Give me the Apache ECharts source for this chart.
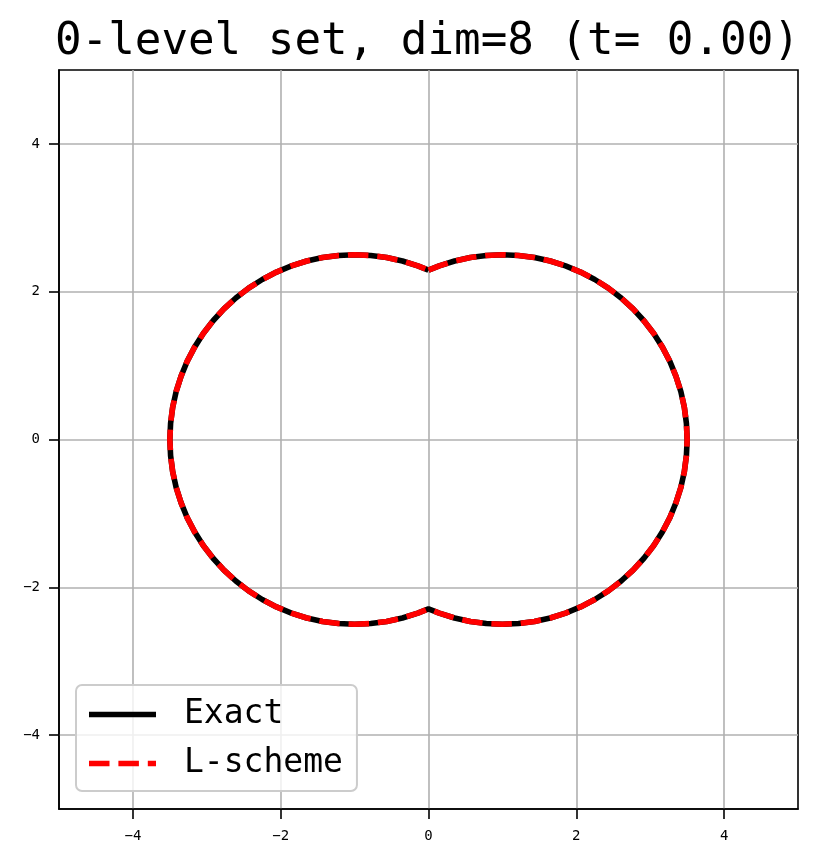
<!DOCTYPE html>
<html>
<head>
<meta charset="utf-8">
<script src="https://cdn.jsdelivr.net/npm/echarts@6/dist/echarts.min.js"></script>
<style>
html,body{margin:0;padding:0;background:#fff;}
#chart{width:823px;height:867px;}
</style>
</head>
<body>
<div id="chart"></div>
<script>
// ---- data ----
const titleText = '0-level set, dim=8 (t= 0.00)';
const seriesNames = ['Exact', 'L-scheme'];
const xTicks = [-4, -2, 0, 2, 4];
const yTicks = [-4, -2, 0, 2, 4];
const axisRange = [-5, 5];

const exactX = [0.000,0.145,0.353,0.566,0.782,1.000,1.218,1.434,1.647,1.855,2.057,2.250,2.434,2.607,2.768,2.915,3.048,3.165,3.266,3.349,3.415,3.462,3.490,3.500,3.490,3.462,3.415,3.349,3.266,3.165,3.048,2.915,2.768,2.607,2.434,2.250,2.057,1.855,1.647,1.434,1.218,1.000,0.782,0.566,0.353,0.145,0.000,-0.145,-0.353,-0.566,-0.782,-1.000,-1.218,-1.434,-1.647,-1.855,-2.057,-2.250,-2.434,-2.607,-2.768,-2.915,-3.048,-3.165,-3.266,-3.349,-3.415,-3.462,-3.490,-3.500,-3.490,-3.462,-3.415,-3.349,-3.266,-3.165,-3.048,-2.915,-2.768,-2.607,-2.434,-2.250,-2.057,-1.855,-1.647,-1.434,-1.218,-1.000,-0.782,-0.566,-0.353,-0.145,0.000];
const exactY = [2.291,2.349,2.415,2.462,2.490,2.500,2.490,2.462,2.415,2.349,2.266,2.165,2.048,1.915,1.768,1.607,1.434,1.250,1.057,0.855,0.647,0.434,0.218,0.000,-0.218,-0.434,-0.647,-0.855,-1.057,-1.250,-1.434,-1.607,-1.768,-1.915,-2.048,-2.165,-2.266,-2.349,-2.415,-2.462,-2.490,-2.500,-2.490,-2.462,-2.415,-2.349,-2.291,-2.349,-2.415,-2.462,-2.490,-2.500,-2.490,-2.462,-2.415,-2.349,-2.266,-2.165,-2.048,-1.915,-1.768,-1.607,-1.434,-1.250,-1.057,-0.855,-0.647,-0.434,-0.218,0.000,0.218,0.434,0.647,0.855,1.057,1.250,1.434,1.607,1.768,1.915,2.048,2.165,2.266,2.349,2.415,2.462,2.490,2.500,2.490,2.462,2.415,2.349,2.291];

const lschemeX = [0.000,0.145,0.353,0.566,0.782,1.000,1.218,1.434,1.647,1.855,2.057,2.250,2.434,2.607,2.768,2.915,3.048,3.165,3.266,3.349,3.415,3.462,3.490,3.500,3.490,3.462,3.415,3.349,3.266,3.165,3.048,2.915,2.768,2.607,2.434,2.250,2.057,1.855,1.647,1.434,1.218,1.000,0.782,0.566,0.353,0.145,0.000,-0.145,-0.353,-0.566,-0.782,-1.000,-1.218,-1.434,-1.647,-1.855,-2.057,-2.250,-2.434,-2.607,-2.768,-2.915,-3.048,-3.165,-3.266,-3.349,-3.415,-3.462,-3.490,-3.500,-3.490,-3.462,-3.415,-3.349,-3.266,-3.165,-3.048,-2.915,-2.768,-2.607,-2.434,-2.250,-2.057,-1.855,-1.647,-1.434,-1.218,-1.000,-0.782,-0.566,-0.353,-0.145,0.000];
const lschemeY = [2.291,2.349,2.415,2.462,2.490,2.500,2.490,2.462,2.415,2.349,2.266,2.165,2.048,1.915,1.768,1.607,1.434,1.250,1.057,0.855,0.647,0.434,0.218,0.000,-0.218,-0.434,-0.647,-0.855,-1.057,-1.250,-1.434,-1.607,-1.768,-1.915,-2.048,-2.165,-2.266,-2.349,-2.415,-2.462,-2.490,-2.500,-2.490,-2.462,-2.415,-2.349,-2.291,-2.349,-2.415,-2.462,-2.490,-2.500,-2.490,-2.462,-2.415,-2.349,-2.266,-2.165,-2.048,-1.915,-1.768,-1.607,-1.434,-1.250,-1.057,-0.855,-0.647,-0.434,-0.218,0.000,0.218,0.434,0.647,0.855,1.057,1.250,1.434,1.607,1.768,1.915,2.048,2.165,2.266,2.349,2.415,2.462,2.490,2.500,2.490,2.462,2.415,2.349,2.291];

// ---- chart ----
const MONO = 'DejaVu Sans Mono';
const LW = 5.6;
const DASH = [20.5, 8.9];
const pairs = (xs, ys) => xs.map((x, i) => [x, ys[i]]);
const fmt = v => (v < 0 ? '\u2212' + Math.abs(v) : String(v));

// legend icons: solid bar and dashed bar (67 x 5.6 px)
const SOLID_ICON = 'path://M0,0H67V5.6H0Z';
const DASH_ICON = 'path://M0,0H20.5V5.6H0Z M29.4,0H49.9V5.6H29.4Z M58.8,0H67V5.6H58.8Z';

function axis(ticks, margin) {
  return {
    type: 'value',
    min: axisRange[0],
    max: axisRange[1],
    axisLine: { show: true, onZero: false, lineStyle: { color: '#000', width: 1.6 } },
    axisTick: { show: true, inside: false, length: 10, customValues: ticks,
                lineStyle: { color: '#000', width: 1.6 } },
    axisLabel: { show: true, customValues: ticks, formatter: fmt, margin: margin,
                 fontFamily: MONO, fontSize: 14, color: '#000' },
    splitLine: { show: true, lineStyle: { color: '#b0b0b0', width: 1.6 } }
  };
}

const chart = echarts.init(document.getElementById('chart'), null, { renderer: 'canvas' });
chart.setOption({
  animation: false,
  backgroundColor: '#fff',
  title: {
    text: titleText,
    left: 55,
    top: 21,
    padding: 0,
    textStyle: { fontFamily: MONO, fontSize: 44.2, fontWeight: 'normal', color: '#000' }
  },
  grid: {
    left: 59, top: 70, width: 739, height: 739,
    show: true, borderColor: '#000', borderWidth: 1.6, backgroundColor: '#fff'
  },
  xAxis: axis(xTicks, 20),
  yAxis: axis(yTicks, 19),
  legend: {
    orient: 'vertical',
    left: 76,
    top: 685,
    padding: [13, 14, 11, 13],
    itemGap: 16,
    itemWidth: 67,
    itemHeight: 5.6,
    symbolKeepAspect: false,
    backgroundColor: 'rgba(255,255,255,0.8)',
    borderColor: '#cccccc',
    borderWidth: 2,
    borderRadius: 6,
    textStyle: { fontFamily: MONO, fontSize: 33, color: '#000', padding: [0, 0, 0, 23] },
    data: [
      { name: seriesNames[0], icon: SOLID_ICON,
        itemStyle: { color: '#000', borderWidth: 0, opacity: 1 } },
      { name: seriesNames[1], icon: DASH_ICON,
        itemStyle: { color: '#ff0000', borderWidth: 0, opacity: 1 } }
    ]
  },
  series: [
    {
      name: seriesNames[0], type: 'line', data: pairs(exactX, exactY),
      showSymbol: false, symbol: 'none', smooth: false,
      lineStyle: { color: '#000', width: LW, type: 'solid' },
      itemStyle: { color: '#000' }, z: 3
    },
    {
      name: seriesNames[1], type: 'line', data: pairs(lschemeX, lschemeY),
      showSymbol: false, symbol: 'none', smooth: false,
      lineStyle: { color: '#ff0000', width: LW, type: DASH, cap: 'butt' },
      itemStyle: { color: '#ff0000' }, z: 4
    }
  ]
});
</script>
</body>
</html>
